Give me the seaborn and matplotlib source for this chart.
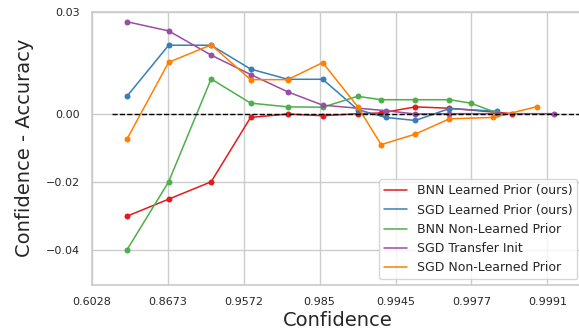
import matplotlib
matplotlib.use("Agg")
import matplotlib.pyplot as plt
from matplotlib.lines import Line2D
import numpy as np
import pandas as pd
import seaborn as sns

# Bin positions along the confidence axis (in tick units) and calibration gap per method
tick_labels = ["0.6028", "0.8673", "0.9572", "0.985", "0.9945", "0.9977", "0.9991"]

methods = [
    "BNN Learned Prior (ours)",
    "SGD Learned Prior (ours)",
    "BNN Non-Learned Prior",
    "SGD Transfer Init",
    "SGD Non-Learned Prior",
]
colors = ["#e41a1c", "#377eb8", "#4daf4a", "#984ea3", "#ff7f00"]

x_bnn_learned = [0.46, 1.01, 1.57, 2.09, 2.58, 3.04, 3.50, 3.81, 4.26, 4.71, 5.54]
bnn_learned = [-0.0301, -0.0251, -0.0200, -0.0011, -0.0001, -0.0006, 0.0000, 0.0002, 0.0020, 0.0016, 0.0000]

x_sgd_learned = [0.46, 1.01, 1.57, 2.09, 2.58, 3.04, 3.50, 3.87, 4.26, 4.71, 5.34]
sgd_learned = [0.0051, 0.0201, 0.0201, 0.0131, 0.0101, 0.0101, 0.0012, -0.0011, -0.0020, 0.0015, 0.0007]

x_bnn_nonlearned = [0.46, 1.01, 1.57, 2.09, 2.58, 3.04, 3.50, 3.81, 4.26, 4.71, 4.99, 5.34]
bnn_nonlearned = [-0.0400, -0.0200, 0.0102, 0.0031, 0.0020, 0.0019, 0.0051, 0.0041, 0.0041, 0.0041, 0.0031, 0.0002]

x_sgd_transfer = [0.46, 1.01, 1.57, 2.09, 2.58, 3.04, 3.87, 4.26, 4.71, 5.34, 6.09]
sgd_transfer = [0.0270, 0.0243, 0.0172, 0.0115, 0.0064, 0.0025, 0.0009, -0.0001, 0.0000, 0.0000, 0.0000]

x_sgd_nonlearned = [0.46, 1.01, 1.57, 2.09, 2.58, 3.04, 3.50, 3.81, 4.26, 4.71, 5.29, 5.87]
sgd_nonlearned = [-0.0075, 0.0151, 0.0202, 0.0100, 0.0100, 0.0150, 0.0021, -0.0091, -0.0060, -0.0015, -0.0011, 0.0021]

series = [
    (x_bnn_learned, bnn_learned),
    (x_sgd_learned, sgd_learned),
    (x_bnn_nonlearned, bnn_nonlearned),
    (x_sgd_transfer, sgd_transfer),
    (x_sgd_nonlearned, sgd_nonlearned),
]

frames = []
for name, (xs, ys) in zip(methods, series):
    frames.append(pd.DataFrame({"pos": xs, "gap": ys, "method": name}))
df = pd.concat(frames, ignore_index=True)

sns.set_theme(style="whitegrid")
plt.rcParams["font.family"] = ["DejaVu Sans"]

fig = plt.figure(figsize=(5.79, 3.32), dpi=100)
ax = fig.add_axes([92 / 579, 1 - 285 / 332, 491 / 579, (285 - 11.5) / 332])

sns.lineplot(
    data=df, x="pos", y="gap", hue="method", hue_order=methods,
    palette=dict(zip(methods, colors)), marker="o", markersize=4.3,
    markeredgewidth=0, linewidth=1.1, sort=False, estimator=None, ax=ax,
)

ax.axhline(0, xmin=0.04, xmax=1, color="black", linestyle="--", linewidth=1.0, zorder=5)

ax.set_xlim(0, 6.47)
ax.set_ylim(-0.0503, 0.03)
ax.set_xticks(range(len(tick_labels)))
ax.set_xticklabels(tick_labels)
ax.set_yticks([-0.04, -0.02, 0.0, 0.03])
ax.set_yticklabels(["\u22120.04", "\u22120.02", "0.00", "0.03"])
ax.tick_params(axis="both", labelsize=8, length=0, pad=8.5, labelcolor="#262626")

ax.set_xlabel("Confidence", fontsize=14, color="#262626", labelpad=3)
ax.set_ylabel("Confidence - Accuracy", fontsize=14, color="#262626", labelpad=9)

for side in ["left", "bottom", "top", "right"]:
    ax.spines[side].set_color("#cccccc")

handles = [Line2D([0], [0], color=c, linewidth=1.1) for c in colors]
ax.legend(handles, methods, loc="lower right", fontsize=9, frameon=True,
          handlelength=1.8, borderaxespad=0.45)

fig.savefig("out.png", dpi=100)
